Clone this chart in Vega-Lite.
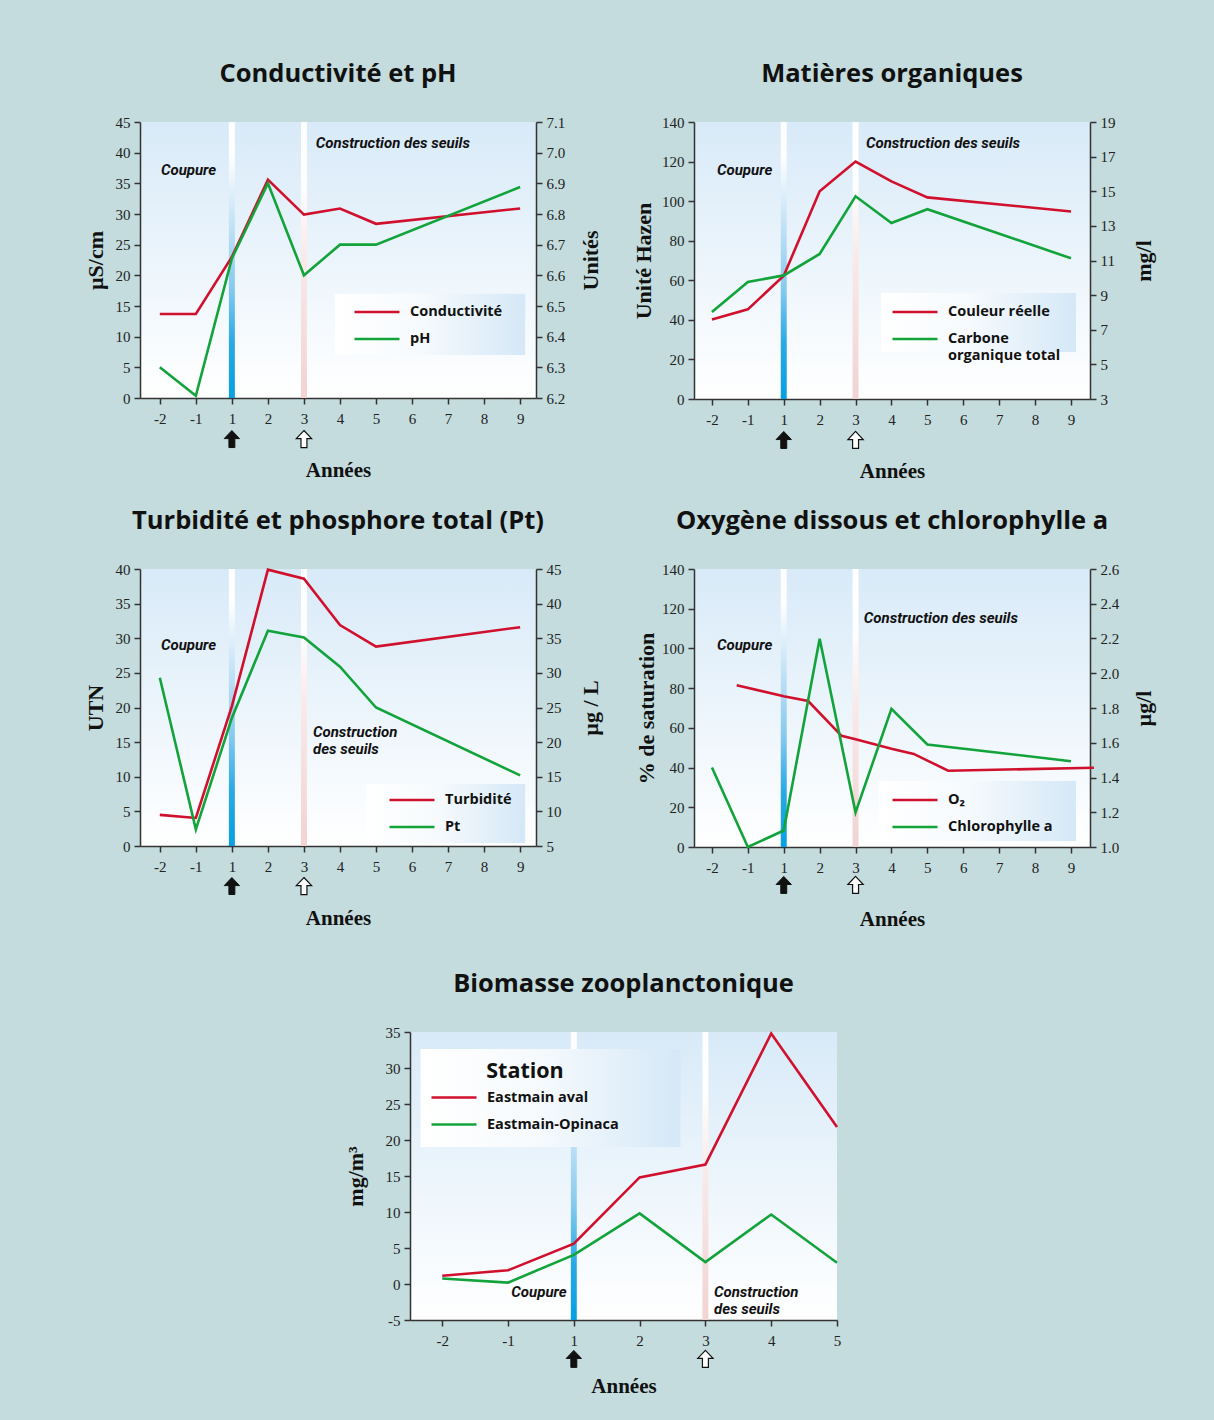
{
  "$schema": "https://vega.github.io/schema/vega-lite/v6.json",
  "background": "#c4dcdd",
  "padding": {"left": 84, "top": 61, "right": 64, "bottom": 27},
  "spacing": 42,
  "resolve": {"scale": {"color": "independent"}},
  "vconcat": [
    {
      "spacing": 27,
      "resolve": {"scale": {"color": "independent"}},
      "vconcat": [
        {
          "spacing": 30,
          "resolve": {"scale": {"color": "independent"}},
          "hconcat": [
            {
              "width": 396, "height": 276,
              "title": "Conductivité et pH",
              "data": {"values": [
                {"series": "Conductivité", "t": 0, "v": 13.7},
                {"series": "Conductivité", "t": 1, "v": 13.7},
                {"series": "Conductivité", "t": 2, "v": 23.0},
                {"series": "Conductivité", "t": 3, "v": 35.6},
                {"series": "Conductivité", "t": 4, "v": 29.9},
                {"series": "Conductivité", "t": 5, "v": 30.9},
                {"series": "Conductivité", "t": 6, "v": 28.4},
                {"series": "Conductivité", "t": 10, "v": 30.9},
                {"series": "pH", "t": 0, "v": 6.30},
                {"series": "pH", "t": 1, "v": 6.207},
                {"series": "pH", "t": 2, "v": 6.655},
                {"series": "pH", "t": 3, "v": 6.90},
                {"series": "pH", "t": 4, "v": 6.60},
                {"series": "pH", "t": 5, "v": 6.70},
                {"series": "pH", "t": 6, "v": 6.70},
                {"series": "pH", "t": 10, "v": 6.888}
              ]},
              "layer": [
                {
                  "layer": [
                    {"data": {"values": [{}]}, "mark": {"type": "rect", "fill": {"gradient": "linear", "x1": 0, "y1": 0, "x2": 0, "y2": 1, "stops": [{"offset": 0, "color": "#ffffff"}, {"offset": 0.12, "color": "#ffffff"}, {"offset": 0.35, "color": "#c8e4f7"}, {"offset": 0.6, "color": "#86caef"}, {"offset": 0.8, "color": "#2aa9e4"}, {"offset": 1, "color": "#05a0e2"}]}},
                     "encoding": {
                       "x": {"datum": 1.917, "type": "quantitative", "scale": {"domain": [-0.55, 10.44], "nice": false, "zero": false}, "axis": {"values": [0, 1, 2, 3, 4, 5, 6, 7, 8, 9, 10], "tickCount": 30, "labelExpr": "datum.value < 2 ? datum.value - 2 : datum.value - 1", "title": "Années", "labelOverlap": false}},
                       "x2": {"datum": 2.083},
                       "y": {"datum": 0, "type": "quantitative", "scale": {"domain": [0, 45], "nice": false, "zero": false}, "axis": {"values": [0, 5, 10, 15, 20, 25, 30, 35, 40, 45], "tickCount": 30, "format": "d", "title": "µS/cm", "titlePadding": 8, "labelOverlap": false}},
                       "y2": {"datum": 45}}},
                    {"data": {"values": [{}]}, "mark": {"type": "rect", "fill": {"gradient": "linear", "x1": 0, "y1": 0, "x2": 0, "y2": 1, "stops": [{"offset": 0, "color": "#ffffff"}, {"offset": 0.2, "color": "#ffffff"}, {"offset": 0.5, "color": "#f9e9e9"}, {"offset": 1, "color": "#f1d3d2"}]}},
                     "encoding": {"x": {"datum": 3.917, "type": "quantitative", "scale": {"domain": [-0.55, 10.44], "nice": false, "zero": false}}, "x2": {"datum": 4.083}, "y": {"datum": 0, "type": "quantitative", "scale": {"domain": [0, 45], "nice": false, "zero": false}}, "y2": {"datum": 45}}},
                    {"data": {"values": [{}]}, "mark": {"type": "rect", "fill": {"gradient": "linear", "x1": 0, "y1": 0, "x2": 1, "y2": 0, "stops": [{"offset": 0, "color": "#ffffff"}, {"offset": 0.45, "color": "#f6fafd"}, {"offset": 1, "color": "#d5e8f7"}]}},
                     "encoding": {"x": {"datum": 4.86, "type": "quantitative", "scale": {"domain": [-0.55, 10.44], "nice": false, "zero": false}}, "x2": {"datum": 10.14}, "y": {"datum": 7.0, "type": "quantitative", "scale": {"domain": [0, 45], "nice": false, "zero": false}}, "y2": {"datum": 17.0}}},
                    {"data": {"values": [{"t": 0.03, "v": 37.2, "label": "Coupure"}, {"t": 4.33, "v": 41.6, "label": "Construction des seuils"}]},
                     "mark": {"type": "text", "align": "left", "baseline": "middle", "font": "'Liberation Sans Narrow', Roboto, sans-serif", "fontSize": 15, "fontWeight": "bold", "fontStyle": "italic", "color": "#111111"},
                     "encoding": {"x": {"field": "t", "type": "quantitative", "scale": {"domain": [-0.55, 10.44], "nice": false, "zero": false}}, "y": {"field": "v", "type": "quantitative", "scale": {"domain": [0, 45], "nice": false, "zero": false}}, "text": {"field": "label"}}},
                    {"data": {"values": [{}]}, "mark": {"type": "point", "shape": "M0,-1L0.9,-0.05L0.35,-0.05L0.35,1L-0.35,1L-0.35,-0.05L-0.9,-0.05Z", "size": 289, "filled": true, "fill": "#111111", "stroke": "#111111", "strokeWidth": 1, "opacity": 1},
                     "encoding": {"x": {"datum": 2, "type": "quantitative", "scale": {"domain": [-0.55, 10.44], "nice": false, "zero": false}}, "y": {"datum": -6.69, "type": "quantitative", "scale": {"domain": [0, 45], "nice": false, "zero": false}}}},
                    {"data": {"values": [{}]}, "mark": {"type": "point", "shape": "M0,-1L0.9,-0.05L0.35,-0.05L0.35,1L-0.35,1L-0.35,-0.05L-0.9,-0.05Z", "size": 289, "filled": true, "fill": "#ffffff", "stroke": "#111111", "strokeWidth": 1.2, "opacity": 1},
                     "encoding": {"x": {"datum": 4, "type": "quantitative", "scale": {"domain": [-0.55, 10.44], "nice": false, "zero": false}}, "y": {"datum": -6.69, "type": "quantitative", "scale": {"domain": [0, 45], "nice": false, "zero": false}}}},
                    {"transform": [{"filter": "datum.series == 'Conductivité'"}],
                     "mark": {"type": "line", "strokeWidth": 2.6},
                     "encoding": {
                       "x": {"field": "t", "type": "quantitative", "scale": {"domain": [-0.55, 10.44], "nice": false, "zero": false}},
                       "y": {"field": "v", "type": "quantitative", "scale": {"domain": [0, 45], "nice": false, "zero": false}},
                       "color": {"field": "series", "type": "nominal", "scale": {"domain": ["Conductivité", "pH"], "range": ["#d0102c", "#12a33b"]}, "legend": {"legendX": 214, "legendY": 181}}
                     }}
                  ]
                },
                {"transform": [{"filter": "datum.series == 'pH'"}],
                 "mark": {"type": "line", "strokeWidth": 2.6},
                 "encoding": {
                   "x": {"field": "t", "type": "quantitative", "scale": {"domain": [-0.55, 10.44], "nice": false, "zero": false}},
                   "y": {"field": "v", "type": "quantitative", "scale": {"domain": [6.2, 7.1], "nice": false, "zero": false}, "axis": {"orient": "right", "values": [6.2, 6.3, 6.4, 6.5, 6.6, 6.7, 6.8, 6.9, 7.0, 7.1], "tickCount": 30, "format": ".1f", "title": "Unités", "titleAngle": 270, "titleBaseline": "top", "titlePadding": 16, "labelOverlap": false}},
                   "color": {"field": "series", "type": "nominal", "scale": {"domain": ["Conductivité", "pH"], "range": ["#d0102c", "#12a33b"]}, "legend": null}
                 }}
              ],
              "resolve": {"scale": {"y": "independent"}}
            },
            {
              "width": 396, "height": 277,
              "title": "Matières organiques",
              "data": {"values": [
                {"series": "Couleur réelle", "t": 0, "v": 40.2},
                {"series": "Couleur réelle", "t": 1, "v": 45.3},
                {"series": "Couleur réelle", "t": 2, "v": 62.3},
                {"series": "Couleur réelle", "t": 3, "v": 105.0},
                {"series": "Couleur réelle", "t": 4, "v": 120.0},
                {"series": "Couleur réelle", "t": 5, "v": 110.0},
                {"series": "Couleur réelle", "t": 6, "v": 101.9},
                {"series": "Couleur réelle", "t": 10, "v": 94.8},
                {"series": "Carbone organique total", "t": 0, "v": 8.02},
                {"series": "Carbone organique total", "t": 1, "v": 9.76},
                {"series": "Carbone organique total", "t": 2, "v": 10.14},
                {"series": "Carbone organique total", "t": 3, "v": 11.38},
                {"series": "Carbone organique total", "t": 4, "v": 14.71},
                {"series": "Carbone organique total", "t": 5, "v": 13.17},
                {"series": "Carbone organique total", "t": 6, "v": 13.96},
                {"series": "Carbone organique total", "t": 10, "v": 11.13}
              ]},
              "layer": [
                {
                  "layer": [
                    {"data": {"values": [{}]}, "mark": {"type": "rect", "fill": {"gradient": "linear", "x1": 0, "y1": 0, "x2": 0, "y2": 1, "stops": [{"offset": 0, "color": "#ffffff"}, {"offset": 0.12, "color": "#ffffff"}, {"offset": 0.35, "color": "#c8e4f7"}, {"offset": 0.6, "color": "#86caef"}, {"offset": 0.8, "color": "#2aa9e4"}, {"offset": 1, "color": "#05a0e2"}]}},
                     "encoding": {
                       "x": {"datum": 1.917, "type": "quantitative", "scale": {"domain": [-0.5, 10.53], "nice": false, "zero": false}, "axis": {"values": [0, 1, 2, 3, 4, 5, 6, 7, 8, 9, 10], "tickCount": 30, "labelExpr": "datum.value < 2 ? datum.value - 2 : datum.value - 1", "title": "Années", "labelOverlap": false}},
                       "x2": {"datum": 2.083},
                       "y": {"datum": 0, "type": "quantitative", "scale": {"domain": [0, 140], "nice": false, "zero": false}, "axis": {"values": [0, 20, 40, 60, 80, 100, 120, 140], "tickCount": 30, "format": "d", "title": "Unité Hazen", "titlePadding": 6, "labelOverlap": false}},
                       "y2": {"datum": 140}}},
                    {"data": {"values": [{}]}, "mark": {"type": "rect", "fill": {"gradient": "linear", "x1": 0, "y1": 0, "x2": 0, "y2": 1, "stops": [{"offset": 0, "color": "#ffffff"}, {"offset": 0.2, "color": "#ffffff"}, {"offset": 0.5, "color": "#f9e9e9"}, {"offset": 1, "color": "#f1d3d2"}]}},
                     "encoding": {"x": {"datum": 3.917, "type": "quantitative", "scale": {"domain": [-0.5, 10.53], "nice": false, "zero": false}}, "x2": {"datum": 4.083}, "y": {"datum": 0, "type": "quantitative", "scale": {"domain": [0, 140], "nice": false, "zero": false}}, "y2": {"datum": 140}}},
                    {"data": {"values": [{}]}, "mark": {"type": "rect", "fill": {"gradient": "linear", "x1": 0, "y1": 0, "x2": 1, "y2": 0, "stops": [{"offset": 0, "color": "#ffffff"}, {"offset": 0.45, "color": "#f6fafd"}, {"offset": 1, "color": "#d5e8f7"}]}},
                     "encoding": {"x": {"datum": 4.71, "type": "quantitative", "scale": {"domain": [-0.5, 10.53], "nice": false, "zero": false}}, "x2": {"datum": 10.14}, "y": {"datum": 23.7, "type": "quantitative", "scale": {"domain": [0, 140], "nice": false, "zero": false}}, "y2": {"datum": 53.6}}},
                    {"data": {"values": [{"t": 0.14, "v": 115.7, "label": "Coupure"}, {"t": 4.29, "v": 129.4, "label": "Construction des seuils"}]},
                     "mark": {"type": "text", "align": "left", "baseline": "middle", "font": "'Liberation Sans Narrow', Roboto, sans-serif", "fontSize": 15, "fontWeight": "bold", "fontStyle": "italic", "color": "#111111"},
                     "encoding": {"x": {"field": "t", "type": "quantitative", "scale": {"domain": [-0.5, 10.53], "nice": false, "zero": false}}, "y": {"field": "v", "type": "quantitative", "scale": {"domain": [0, 140], "nice": false, "zero": false}}, "text": {"field": "label"}}},
                    {"data": {"values": [{}]}, "mark": {"type": "point", "shape": "M0,-1L0.9,-0.05L0.35,-0.05L0.35,1L-0.35,1L-0.35,-0.05L-0.9,-0.05Z", "size": 289, "filled": true, "fill": "#111111", "stroke": "#111111", "strokeWidth": 1, "opacity": 1},
                     "encoding": {"x": {"datum": 2, "type": "quantitative", "scale": {"domain": [-0.5, 10.53], "nice": false, "zero": false}}, "y": {"datum": -20.7, "type": "quantitative", "scale": {"domain": [0, 140], "nice": false, "zero": false}}}},
                    {"data": {"values": [{}]}, "mark": {"type": "point", "shape": "M0,-1L0.9,-0.05L0.35,-0.05L0.35,1L-0.35,1L-0.35,-0.05L-0.9,-0.05Z", "size": 289, "filled": true, "fill": "#ffffff", "stroke": "#111111", "strokeWidth": 1.2, "opacity": 1},
                     "encoding": {"x": {"datum": 4, "type": "quantitative", "scale": {"domain": [-0.5, 10.53], "nice": false, "zero": false}}, "y": {"datum": -20.7, "type": "quantitative", "scale": {"domain": [0, 140], "nice": false, "zero": false}}}},
                    {"transform": [{"filter": "datum.series == 'Couleur réelle'"}],
                     "mark": {"type": "line", "strokeWidth": 2.6},
                     "encoding": {
                       "x": {"field": "t", "type": "quantitative", "scale": {"domain": [-0.5, 10.53], "nice": false, "zero": false}},
                       "y": {"field": "v", "type": "quantitative", "scale": {"domain": [0, 140], "nice": false, "zero": false}},
                       "color": {"field": "series", "type": "nominal", "scale": {"domain": ["Couleur réelle", "Carbone organique total"], "range": ["#d0102c", "#12a33b"]}, "legend": {"legendX": 198, "legendY": 181, "labelExpr": "datum.label == 'Carbone organique total' ? ['Carbone', 'organique total'] : datum.label"}}
                     }}
                  ]
                },
                {"transform": [{"filter": "datum.series == 'Carbone organique total'"}],
                 "mark": {"type": "line", "strokeWidth": 2.6},
                 "encoding": {
                   "x": {"field": "t", "type": "quantitative", "scale": {"domain": [-0.5, 10.53], "nice": false, "zero": false}},
                   "y": {"field": "v", "type": "quantitative", "scale": {"domain": [3, 19], "nice": false, "zero": false}, "axis": {"orient": "right", "values": [3, 5, 7, 9, 11, 13, 15, 17, 19], "tickCount": 30, "format": "d", "title": "mg/l", "titleAngle": 270, "titleBaseline": "top", "titlePadding": 18, "labelOverlap": false}},
                   "color": {"field": "series", "type": "nominal", "scale": {"domain": ["Couleur réelle", "Carbone organique total"], "range": ["#d0102c", "#12a33b"]}, "legend": null}
                 }}
              ],
              "resolve": {"scale": {"y": "independent"}}
            }
          ]
        },
        {
          "spacing": 34,
          "resolve": {"scale": {"color": "independent"}},
          "hconcat": [
            {
              "width": 396, "height": 277,
              "title": "Turbidité et phosphore total (Pt)",
              "data": {"values": [
                {"series": "Turbidité", "t": 0, "v": 4.5},
                {"series": "Turbidité", "t": 1, "v": 4.05},
                {"series": "Turbidité", "t": 2, "v": 20.2},
                {"series": "Turbidité", "t": 3, "v": 39.9},
                {"series": "Turbidité", "t": 4, "v": 38.6},
                {"series": "Turbidité", "t": 5, "v": 31.9},
                {"series": "Turbidité", "t": 6, "v": 28.8},
                {"series": "Turbidité", "t": 10, "v": 31.6},
                {"series": "Pt", "t": 0, "v": 29.3},
                {"series": "Pt", "t": 1, "v": 7.4},
                {"series": "Pt", "t": 2, "v": 23.5},
                {"series": "Pt", "t": 3, "v": 36.1},
                {"series": "Pt", "t": 4, "v": 35.1},
                {"series": "Pt", "t": 5, "v": 30.9},
                {"series": "Pt", "t": 6, "v": 25.0},
                {"series": "Pt", "t": 10, "v": 15.2}
              ]},
              "layer": [
                {
                  "layer": [
                    {"data": {"values": [{}]}, "mark": {"type": "rect", "fill": {"gradient": "linear", "x1": 0, "y1": 0, "x2": 0, "y2": 1, "stops": [{"offset": 0, "color": "#ffffff"}, {"offset": 0.12, "color": "#ffffff"}, {"offset": 0.35, "color": "#c8e4f7"}, {"offset": 0.6, "color": "#86caef"}, {"offset": 0.8, "color": "#2aa9e4"}, {"offset": 1, "color": "#05a0e2"}]}},
                     "encoding": {
                       "x": {"datum": 1.917, "type": "quantitative", "scale": {"domain": [-0.55, 10.44], "nice": false, "zero": false}, "axis": {"values": [0, 1, 2, 3, 4, 5, 6, 7, 8, 9, 10], "tickCount": 30, "labelExpr": "datum.value < 2 ? datum.value - 2 : datum.value - 1", "title": "Années", "labelOverlap": false}},
                       "x2": {"datum": 2.083},
                       "y": {"datum": 0, "type": "quantitative", "scale": {"domain": [0, 40], "nice": false, "zero": false}, "axis": {"values": [0, 5, 10, 15, 20, 25, 30, 35, 40], "tickCount": 30, "format": "d", "title": "UTN", "titlePadding": 8, "labelOverlap": false}},
                       "y2": {"datum": 40}}},
                    {"data": {"values": [{}]}, "mark": {"type": "rect", "fill": {"gradient": "linear", "x1": 0, "y1": 0, "x2": 0, "y2": 1, "stops": [{"offset": 0, "color": "#ffffff"}, {"offset": 0.2, "color": "#ffffff"}, {"offset": 0.5, "color": "#f9e9e9"}, {"offset": 1, "color": "#f1d3d2"}]}},
                     "encoding": {"x": {"datum": 3.917, "type": "quantitative", "scale": {"domain": [-0.55, 10.44], "nice": false, "zero": false}}, "x2": {"datum": 4.083}, "y": {"datum": 0, "type": "quantitative", "scale": {"domain": [0, 40], "nice": false, "zero": false}}, "y2": {"datum": 40}}},
                    {"data": {"values": [{}]}, "mark": {"type": "rect", "fill": {"gradient": "linear", "x1": 0, "y1": 0, "x2": 1, "y2": 0, "stops": [{"offset": 0, "color": "#ffffff"}, {"offset": 0.45, "color": "#f6fafd"}, {"offset": 1, "color": "#d5e8f7"}]}},
                     "encoding": {"x": {"datum": 5.72, "type": "quantitative", "scale": {"domain": [-0.55, 10.44], "nice": false, "zero": false}}, "x2": {"datum": 10.14}, "y": {"datum": 0.43, "type": "quantitative", "scale": {"domain": [0, 40], "nice": false, "zero": false}}, "y2": {"datum": 8.95}}},
                    {"data": {"values": [{"t": 0.03, "v": 29.0, "label": "Coupure"}, {"t": 4.25, "v": 16.4, "label": "Construction\ndes seuils"}]},
                     "mark": {"type": "text", "align": "left", "baseline": "middle", "lineBreak": "\n", "lineHeight": 17, "font": "'Liberation Sans Narrow', Roboto, sans-serif", "fontSize": 15, "fontWeight": "bold", "fontStyle": "italic", "color": "#111111"},
                     "encoding": {"x": {"field": "t", "type": "quantitative", "scale": {"domain": [-0.55, 10.44], "nice": false, "zero": false}}, "y": {"field": "v", "type": "quantitative", "scale": {"domain": [0, 40], "nice": false, "zero": false}}, "text": {"field": "label"}}},
                    {"data": {"values": [{}]}, "mark": {"type": "point", "shape": "M0,-1L0.9,-0.05L0.35,-0.05L0.35,1L-0.35,1L-0.35,-0.05L-0.9,-0.05Z", "size": 289, "filled": true, "fill": "#111111", "stroke": "#111111", "strokeWidth": 1, "opacity": 1},
                     "encoding": {"x": {"datum": 2, "type": "quantitative", "scale": {"domain": [-0.55, 10.44], "nice": false, "zero": false}}, "y": {"datum": -5.78, "type": "quantitative", "scale": {"domain": [0, 40], "nice": false, "zero": false}}}},
                    {"data": {"values": [{}]}, "mark": {"type": "point", "shape": "M0,-1L0.9,-0.05L0.35,-0.05L0.35,1L-0.35,1L-0.35,-0.05L-0.9,-0.05Z", "size": 289, "filled": true, "fill": "#ffffff", "stroke": "#111111", "strokeWidth": 1.2, "opacity": 1},
                     "encoding": {"x": {"datum": 4, "type": "quantitative", "scale": {"domain": [-0.55, 10.44], "nice": false, "zero": false}}, "y": {"datum": -5.78, "type": "quantitative", "scale": {"domain": [0, 40], "nice": false, "zero": false}}}},
                    {"transform": [{"filter": "datum.series == 'Turbidité'"}],
                     "mark": {"type": "line", "strokeWidth": 2.6},
                     "encoding": {
                       "x": {"field": "t", "type": "quantitative", "scale": {"domain": [-0.55, 10.44], "nice": false, "zero": false}},
                       "y": {"field": "v", "type": "quantitative", "scale": {"domain": [0, 40], "nice": false, "zero": false}},
                       "color": {"field": "series", "type": "nominal", "scale": {"domain": ["Turbidité", "Pt"], "range": ["#d0102c", "#12a33b"]}, "legend": {"legendX": 249, "legendY": 222}}
                     }}
                  ]
                },
                {"transform": [{"filter": "datum.series == 'Pt'"}],
                 "mark": {"type": "line", "strokeWidth": 2.6},
                 "encoding": {
                   "x": {"field": "t", "type": "quantitative", "scale": {"domain": [-0.55, 10.44], "nice": false, "zero": false}},
                   "y": {"field": "v", "type": "quantitative", "scale": {"domain": [5, 45], "nice": false, "zero": false}, "axis": {"orient": "right", "values": [5, 10, 15, 20, 25, 30, 35, 40, 45], "tickCount": 30, "format": "d", "title": "µg / L", "titleAngle": 270, "titleBaseline": "top", "titlePadding": 19, "labelOverlap": false}},
                   "color": {"field": "series", "type": "nominal", "scale": {"domain": ["Turbidité", "Pt"], "range": ["#d0102c", "#12a33b"]}, "legend": null}
                 }}
              ],
              "resolve": {"scale": {"y": "independent"}}
            },
            {
              "width": 396, "height": 278,
              "title": "Oxygène dissous et chlorophylle a",
              "data": {"values": [
                {"series": "O₂", "t": 0.69, "v": 81.5},
                {"series": "O₂", "t": 2, "v": 75.9},
                {"series": "O₂", "t": 2.68, "v": 73.5},
                {"series": "O₂", "t": 3.61, "v": 56.0},
                {"series": "O₂", "t": 4, "v": 54.3},
                {"series": "O₂", "t": 5, "v": 49.5},
                {"series": "O₂", "t": 5.62, "v": 46.9},
                {"series": "O₂", "t": 6.58, "v": 38.4},
                {"series": "O₂", "t": 10.64, "v": 39.9},
                {"series": "Chlorophylle a", "t": 0, "v": 1.458},
                {"series": "Chlorophylle a", "t": 1, "v": 1.0},
                {"series": "Chlorophylle a", "t": 2, "v": 1.095},
                {"series": "Chlorophylle a", "t": 3, "v": 2.199},
                {"series": "Chlorophylle a", "t": 4, "v": 1.199},
                {"series": "Chlorophylle a", "t": 5, "v": 1.795},
                {"series": "Chlorophylle a", "t": 6, "v": 1.59},
                {"series": "Chlorophylle a", "t": 10, "v": 1.494}
              ]},
              "layer": [
                {
                  "layer": [
                    {"data": {"values": [{}]}, "mark": {"type": "rect", "fill": {"gradient": "linear", "x1": 0, "y1": 0, "x2": 0, "y2": 1, "stops": [{"offset": 0, "color": "#ffffff"}, {"offset": 0.12, "color": "#ffffff"}, {"offset": 0.35, "color": "#c8e4f7"}, {"offset": 0.6, "color": "#86caef"}, {"offset": 0.8, "color": "#2aa9e4"}, {"offset": 1, "color": "#05a0e2"}]}},
                     "encoding": {
                       "x": {"datum": 1.917, "type": "quantitative", "scale": {"domain": [-0.5, 10.53], "nice": false, "zero": false}, "axis": {"values": [0, 1, 2, 3, 4, 5, 6, 7, 8, 9, 10], "tickCount": 30, "labelExpr": "datum.value < 2 ? datum.value - 2 : datum.value - 1", "title": "Années", "labelOverlap": false}},
                       "x2": {"datum": 2.083},
                       "y": {"datum": 0, "type": "quantitative", "scale": {"domain": [0, 140], "nice": false, "zero": false}, "axis": {"values": [0, 20, 40, 60, 80, 100, 120, 140], "tickCount": 30, "format": "d", "title": "% de saturation", "titlePadding": 3, "labelOverlap": false}},
                       "y2": {"datum": 140}}},
                    {"data": {"values": [{}]}, "mark": {"type": "rect", "fill": {"gradient": "linear", "x1": 0, "y1": 0, "x2": 0, "y2": 1, "stops": [{"offset": 0, "color": "#ffffff"}, {"offset": 0.2, "color": "#ffffff"}, {"offset": 0.5, "color": "#f9e9e9"}, {"offset": 1, "color": "#f1d3d2"}]}},
                     "encoding": {"x": {"datum": 3.917, "type": "quantitative", "scale": {"domain": [-0.5, 10.53], "nice": false, "zero": false}}, "x2": {"datum": 4.083}, "y": {"datum": 0, "type": "quantitative", "scale": {"domain": [0, 140], "nice": false, "zero": false}}, "y2": {"datum": 140}}},
                    {"data": {"values": [{}]}, "mark": {"type": "rect", "fill": {"gradient": "linear", "x1": 0, "y1": 0, "x2": 1, "y2": 0, "stops": [{"offset": 0, "color": "#ffffff"}, {"offset": 0.45, "color": "#f6fafd"}, {"offset": 1, "color": "#d5e8f7"}]}},
                     "encoding": {"x": {"datum": 4.65, "type": "quantitative", "scale": {"domain": [-0.5, 10.53], "nice": false, "zero": false}}, "x2": {"datum": 10.14}, "y": {"datum": 3.0, "type": "quantitative", "scale": {"domain": [0, 140], "nice": false, "zero": false}}, "y2": {"datum": 33.2}}},
                    {"data": {"values": [{"t": 0.14, "v": 101.7, "label": "Coupure"}, {"t": 4.23, "v": 115.3, "label": "Construction des seuils"}]},
                     "mark": {"type": "text", "align": "left", "baseline": "middle", "font": "'Liberation Sans Narrow', Roboto, sans-serif", "fontSize": 15, "fontWeight": "bold", "fontStyle": "italic", "color": "#111111"},
                     "encoding": {"x": {"field": "t", "type": "quantitative", "scale": {"domain": [-0.5, 10.53], "nice": false, "zero": false}}, "y": {"field": "v", "type": "quantitative", "scale": {"domain": [0, 140], "nice": false, "zero": false}}, "text": {"field": "label"}}},
                    {"data": {"values": [{}]}, "mark": {"type": "point", "shape": "M0,-1L0.9,-0.05L0.35,-0.05L0.35,1L-0.35,1L-0.35,-0.05L-0.9,-0.05Z", "size": 289, "filled": true, "fill": "#111111", "stroke": "#111111", "strokeWidth": 1, "opacity": 1},
                     "encoding": {"x": {"datum": 2, "type": "quantitative", "scale": {"domain": [-0.5, 10.53], "nice": false, "zero": false}}, "y": {"datum": -19.1, "type": "quantitative", "scale": {"domain": [0, 140], "nice": false, "zero": false}}}},
                    {"data": {"values": [{}]}, "mark": {"type": "point", "shape": "M0,-1L0.9,-0.05L0.35,-0.05L0.35,1L-0.35,1L-0.35,-0.05L-0.9,-0.05Z", "size": 289, "filled": true, "fill": "#ffffff", "stroke": "#111111", "strokeWidth": 1.2, "opacity": 1},
                     "encoding": {"x": {"datum": 4, "type": "quantitative", "scale": {"domain": [-0.5, 10.53], "nice": false, "zero": false}}, "y": {"datum": -19.1, "type": "quantitative", "scale": {"domain": [0, 140], "nice": false, "zero": false}}}},
                    {"transform": [{"filter": "datum.series == 'O₂'"}],
                     "mark": {"type": "line", "strokeWidth": 2.6},
                     "encoding": {
                       "x": {"field": "t", "type": "quantitative", "scale": {"domain": [-0.5, 10.53], "nice": false, "zero": false}},
                       "y": {"field": "v", "type": "quantitative", "scale": {"domain": [0, 140], "nice": false, "zero": false}},
                       "color": {"field": "series", "type": "nominal", "scale": {"domain": ["O₂", "Chlorophylle a"], "range": ["#d0102c", "#12a33b"]}, "legend": {"legendX": 198, "legendY": 222}}
                     }}
                  ]
                },
                {"transform": [{"filter": "datum.series == 'Chlorophylle a'"}],
                 "mark": {"type": "line", "strokeWidth": 2.6},
                 "encoding": {
                   "x": {"field": "t", "type": "quantitative", "scale": {"domain": [-0.5, 10.53], "nice": false, "zero": false}},
                   "y": {"field": "v", "type": "quantitative", "scale": {"domain": [1, 2.6], "nice": false, "zero": false}, "axis": {"orient": "right", "values": [1.0, 1.2, 1.4, 1.6, 1.8, 2.0, 2.2, 2.4, 2.6], "tickCount": 30, "format": ".1f", "title": "µg/l", "titleAngle": 270, "titleBaseline": "top", "titlePadding": 15, "labelOverlap": false}},
                   "color": {"field": "series", "type": "nominal", "scale": {"domain": ["O₂", "Chlorophylle a"], "range": ["#d0102c", "#12a33b"]}, "legend": null}
                 }}
              ],
              "resolve": {"scale": {"y": "independent"}}
            }
          ]
        }
      ]
    },
    {
      "spacing": 0,
      "resolve": {"scale": {"color": "independent"}},
      "hconcat": [
        {"width": 204, "height": 10, "view": {"fill": null, "stroke": null}, "data": {"values": []}, "mark": "point", "encoding": {}},
        {
          "width": 427, "height": 288,
          "title": "Biomasse zooplanctonique",
          "data": {"values": [
            {"series": "Eastmain aval", "t": 0, "v": 1.15},
            {"series": "Eastmain aval", "t": 1, "v": 1.9},
            {"series": "Eastmain aval", "t": 2, "v": 5.6},
            {"series": "Eastmain aval", "t": 3, "v": 14.8},
            {"series": "Eastmain aval", "t": 4, "v": 16.6},
            {"series": "Eastmain aval", "t": 5, "v": 34.8},
            {"series": "Eastmain aval", "t": 6, "v": 21.8},
            {"series": "Eastmain-Opinaca", "t": 0, "v": 0.77},
            {"series": "Eastmain-Opinaca", "t": 1, "v": 0.2},
            {"series": "Eastmain-Opinaca", "t": 2, "v": 4.05},
            {"series": "Eastmain-Opinaca", "t": 3, "v": 9.8},
            {"series": "Eastmain-Opinaca", "t": 4, "v": 3.05},
            {"series": "Eastmain-Opinaca", "t": 5, "v": 9.65},
            {"series": "Eastmain-Opinaca", "t": 6, "v": 2.95}
          ]},
          "layer": [
            {"data": {"values": [{}]}, "mark": {"type": "rect", "fill": {"gradient": "linear", "x1": 0, "y1": 0, "x2": 0, "y2": 1, "stops": [{"offset": 0, "color": "#ffffff"}, {"offset": 0.12, "color": "#ffffff"}, {"offset": 0.35, "color": "#c8e4f7"}, {"offset": 0.6, "color": "#86caef"}, {"offset": 0.8, "color": "#2aa9e4"}, {"offset": 1, "color": "#05a0e2"}]}},
             "encoding": {
               "x": {"datum": 1.955, "type": "quantitative", "scale": {"domain": [-0.49, 6], "nice": false, "zero": false}, "axis": {"values": [0, 1, 2, 3, 4, 5, 6], "tickCount": 30, "labelExpr": "datum.value < 2 ? datum.value - 2 : datum.value - 1", "title": "Années", "titlePadding": 27, "labelOverlap": false}},
               "x2": {"datum": 2.045},
               "y": {"datum": -5, "type": "quantitative", "scale": {"domain": [-5, 35], "nice": false, "zero": false}, "axis": {"values": [-5, 0, 5, 10, 15, 20, 25, 30, 35], "tickCount": 30, "labelExpr": "datum.value < 0 ? '-' + abs(datum.value) : '' + datum.value", "title": "mg/m³", "titlePadding": 18, "labelOverlap": false}},
               "y2": {"datum": 35}}},
            {"data": {"values": [{}]}, "mark": {"type": "rect", "fill": {"gradient": "linear", "x1": 0, "y1": 0, "x2": 0, "y2": 1, "stops": [{"offset": 0, "color": "#ffffff"}, {"offset": 0.2, "color": "#ffffff"}, {"offset": 0.5, "color": "#f9e9e9"}, {"offset": 1, "color": "#f1d3d2"}]}},
             "encoding": {"x": {"datum": 3.955, "type": "quantitative", "scale": {"domain": [-0.49, 6], "nice": false, "zero": false}}, "x2": {"datum": 4.045}, "y": {"datum": -5, "type": "quantitative", "scale": {"domain": [-5, 35], "nice": false, "zero": false}}, "y2": {"datum": 35}}},
            {"data": {"values": [{}]}, "mark": {"type": "rect", "fill": {"gradient": "linear", "x1": 0, "y1": 0, "x2": 1, "y2": 0, "stops": [{"offset": 0, "color": "#ffffff"}, {"offset": 0.45, "color": "#f6fafd"}, {"offset": 1, "color": "#d5e8f7"}]}},
             "encoding": {"x": {"datum": -0.33, "type": "quantitative", "scale": {"domain": [-0.49, 6], "nice": false, "zero": false}}, "x2": {"datum": 3.62}, "y": {"datum": 19.03, "type": "quantitative", "scale": {"domain": [-5, 35], "nice": false, "zero": false}}, "y2": {"datum": 32.64}}},
            {"data": {"values": [{"t": 1.05, "v": -1.1, "label": "Coupure"}, {"t": 4.13, "v": -1.05, "label": "Construction\ndes seuils"}]},
             "mark": {"type": "text", "align": "left", "baseline": "middle", "lineBreak": "\n", "lineHeight": 17, "font": "'Liberation Sans Narrow', Roboto, sans-serif", "fontSize": 15, "fontWeight": "bold", "fontStyle": "italic", "color": "#111111"},
             "encoding": {"x": {"field": "t", "type": "quantitative", "scale": {"domain": [-0.49, 6], "nice": false, "zero": false}}, "y": {"field": "v", "type": "quantitative", "scale": {"domain": [-5, 35], "nice": false, "zero": false}}, "text": {"field": "label"}}},
            {"data": {"values": [{}]}, "mark": {"type": "point", "shape": "M0,-1L0.9,-0.05L0.35,-0.05L0.35,1L-0.35,1L-0.35,-0.05L-0.9,-0.05Z", "size": 289, "filled": true, "fill": "#111111", "stroke": "#111111", "strokeWidth": 1, "opacity": 1},
             "encoding": {"x": {"datum": 2, "type": "quantitative", "scale": {"domain": [-0.49, 6], "nice": false, "zero": false}}, "y": {"datum": -10.4, "type": "quantitative", "scale": {"domain": [-5, 35], "nice": false, "zero": false}}}},
            {"data": {"values": [{}]}, "mark": {"type": "point", "shape": "M0,-1L0.9,-0.05L0.35,-0.05L0.35,1L-0.35,1L-0.35,-0.05L-0.9,-0.05Z", "size": 289, "filled": true, "fill": "#ffffff", "stroke": "#111111", "strokeWidth": 1.2, "opacity": 1},
             "encoding": {"x": {"datum": 4, "type": "quantitative", "scale": {"domain": [-0.49, 6], "nice": false, "zero": false}}, "y": {"datum": -10.4, "type": "quantitative", "scale": {"domain": [-5, 35], "nice": false, "zero": false}}}},
            {"mark": {"type": "line", "strokeWidth": 2.6},
             "encoding": {
               "x": {"field": "t", "type": "quantitative", "scale": {"domain": [-0.49, 6], "nice": false, "zero": false}},
               "y": {"field": "v", "type": "quantitative", "scale": {"domain": [-5, 35], "nice": false, "zero": false}},
               "color": {"field": "series", "type": "nominal", "scale": {"domain": ["Eastmain aval", "Eastmain-Opinaca"], "range": ["#d0102c", "#12a33b"]}, "legend": {"legendX": 21, "legendY": 29, "title": "Station", "titleFont": "Open Sans", "titleFontSize": 21.5, "titleFontWeight": "bold", "titleColor": "#111111", "titleAnchor": "middle", "titlePadding": 6}}
             }}
          ]
        }
      ]
    }
  ],
  "config": {
    "view": {"stroke": null, "fill": {"gradient": "linear", "x1": 0, "y1": 0, "x2": 0, "y2": 1, "stops": [{"offset": 0, "color": "#d8eaf8"}, {"offset": 1, "color": "#ffffff"}]}},
    "axis": {"labelFont": "Liberation Serif", "labelFontSize": 15, "labelColor": "#222222", "titleFont": "Liberation Serif", "titleFontSize": 22, "titleFontWeight": "bold", "titleColor": "#111111", "domainColor": "#333333", "domainWidth": 1.5, "tickColor": "#333333", "tickWidth": 1.5, "tickSize": 6, "grid": false, "labelPadding": 4, "labelFlush": false, "labelOverlap": false},
    "axisX": {"titleFontSize": 21, "titlePadding": 33, "labelPadding": 7},
    "title": {"font": "Open Sans", "fontSize": 25.5, "fontWeight": "bold", "color": "#111111", "frame": "group", "anchor": "middle", "offset": 28},
    "legend": {"orient": "none", "title": null, "labelFont": "Open Sans", "labelFontSize": 14.5, "labelFontWeight": "bold", "labelColor": "#111111", "padding": 0, "rowPadding": 11, "symbolType": "M-3,0H3", "symbolSize": 225, "symbolStrokeWidth": 2.6, "symbolOffset": 14, "labelOffset": 24, "labelLimit": 300}
  }
}
